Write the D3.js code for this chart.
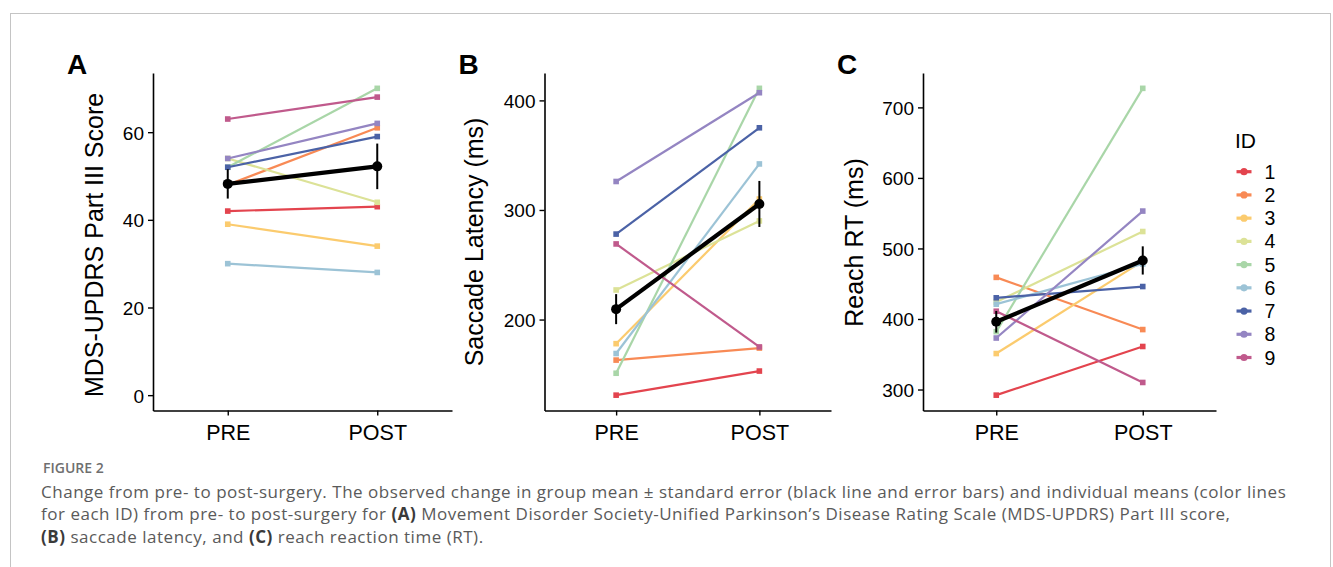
<!DOCTYPE html>
<html>
<head>
<meta charset="utf-8">
<script src="https://cdn.jsdelivr.net/npm/d3@7"></script>
<style>
  body { margin: 0; background: #fff; }
  svg { display: block; }
</style>
</head>
<body>
<div id="chart"></div>
<script>
// data
const ids = [1, 2, 3, 4, 5, 6, 7, 8, 9];
const idColors = ["#E3444E", "#F88A55", "#FBCB6E", "#DCE297", "#A9D6A8", "#9CC3D6", "#4B62A6", "#9485C2", "#C05A8C"];
const phases = ["PRE", "POST"];

const updrsPre  = [42, 48, 39, 54, 52, 30, 52, 54, 63];
const updrsPost = [43, 61, 34, 44, 70, 28, 59, 62, 68];
const updrsMean = [48.2, 52.2];
const updrsSE   = [3.35, 5.2];

const saccadePre  = [131, 163, 178, 227, 151, 169, 278, 326, 269];
const saccadePost = [153, 174, 310, 290, 411, 342, 375, 407, 175];
const saccadeMean = [209.5, 305.5];
const saccadeSE   = [13.7, 21];

const reachPre  = [292, 459, 351, 424, 382, 421, 430, 373, 411];
const reachPost = [361, 385, 482, 524, 727, 478, 446, 553, 310];
const reachMean = [396, 483];
const reachSE   = [15.3, 20];

const captionLines = [
  [["Change from pre- to post-surgery. The observed change in group mean \u00B1 standard error (black line and error bars) and individual means (color lines", false]],
  [["for each ID) from pre- to post-surgery for ", false], ["(A)", true], [" Movement Disorder Society-Unified Parkinson\u2019s Disease Rating Scale (MDS-UPDRS) Part III score,", false]],
  [["(B)", true], [" saccade latency, and ", false], ["(C)", true], [" reach reaction time (RT).", false]]
];

const W = 1333, H = 567;
const svg = d3.select("#chart").append("svg")
  .attr("width", W).attr("height", H)
  .style("font-family", "'Liberation Sans', Arial, sans-serif");

// frame
svg.append("rect")
  .attr("x", 10.5).attr("y", 13.5)
  .attr("width", 1320).attr("height", 600)
  .attr("fill", "none").attr("stroke", "#c4c4c4").attr("stroke-width", 1);

const panels = [
  {letter: "A", title: "MDS-UPDRS Part III Score", pre: updrsPre, post: updrsPost, mean: updrsMean, se: updrsSE,
   left: 153, right: 452, titleX: 103, titleY: 245, extra: [0], ticks: [0, 20, 40, 60]},
  {letter: "B", title: "Saccade Latency (ms)", pre: saccadePre, post: saccadePost, mean: saccadeMean, se: saccadeSE,
   left: 544.5, right: 831, titleX: 483, titleY: 242, extra: [], ticks: [200, 300, 400]},
  {letter: "C", title: "Reach RT (ms)", pre: reachPre, post: reachPost, mean: reachMean, se: reachSE,
   left: 923, right: 1216, titleX: 863, titleY: 242.5, extra: [], ticks: [300, 400, 500, 600, 700]}
];
const plotTop = 73, plotBottom = 410.5;

panels.forEach(p => {
  const g = svg.append("g");
  const x = d3.scalePoint().domain(phases).range([p.left, p.right]).padding(0.5);
  const [lo, hi] = d3.extent(p.pre.concat(p.post, p.extra));
  const pad = (hi - lo) * 0.05;
  const y = d3.scaleLinear().domain([lo - pad, hi + pad]).range([plotBottom, plotTop]);

  // axes
  const yAxis = g.append("g").attr("transform", `translate(${p.left},0)`)
    .call(d3.axisLeft(y).tickValues(p.ticks).tickSize(5).tickSizeOuter(0).tickPadding(4));
  const xAxis = g.append("g").attr("transform", `translate(0,${plotBottom})`)
    .call(d3.axisBottom(x).tickSize(5).tickSizeOuter(0).tickPadding(6));
  [yAxis, xAxis].forEach(a => {
    a.select(".domain").attr("stroke", "#000").attr("stroke-width", 1.6);
    a.selectAll(".tick line").attr("stroke", "#000").attr("stroke-width", 1.4);
    a.selectAll("text").attr("fill", "#000").style("font-family", "'Liberation Sans', Arial, sans-serif");
  });
  yAxis.selectAll("text").style("font-size", "19px").attr("dy", "0.36em");
  xAxis.selectAll("text").style("font-size", "21.5px").attr("dy", "0.85em");

  // axis title
  g.append("text")
    .attr("transform", `translate(${p.titleX},${p.titleY}) rotate(-90)`)
    .attr("text-anchor", "middle")
    .style("font-size", "25px")
    .text(p.title);

  // panel letter
  g.append("text")
    .attr("x", p.left - 86).attr("y", 74)
    .style("font-size", "28px").style("font-weight", "bold")
    .text(p.letter);

  // individual lines
  ids.forEach((id, i) => {
    const vals = [p.pre[i], p.post[i]];
    const c = idColors[i];
    g.append("path")
      .datum(vals)
      .attr("d", d3.line().x((d, j) => x(phases[j])).y(d => y(d)))
      .attr("fill", "none").attr("stroke", c).attr("stroke-width", 2.2);
    g.selectAll(null).data(vals).join("rect")
      .attr("x", (d, j) => x(phases[j]) - 2.8).attr("y", d => y(d) - 2.8)
      .attr("width", 5.6).attr("height", 5.6)
      .attr("fill", c);
  });

  // group mean ± SE
  g.selectAll(null).data(p.mean).join("line")
    .attr("x1", (d, j) => x(phases[j])).attr("x2", (d, j) => x(phases[j]))
    .attr("y1", (d, j) => y(d - p.se[j])).attr("y2", (d, j) => y(d + p.se[j]))
    .attr("stroke", "#000").attr("stroke-width", 2);
  g.append("path")
    .datum(p.mean)
    .attr("d", d3.line().x((d, j) => x(phases[j])).y(d => y(d)))
    .attr("fill", "none").attr("stroke", "#000").attr("stroke-width", 4.2);
  g.selectAll(null).data(p.mean).join("circle")
    .attr("cx", (d, j) => x(phases[j])).attr("cy", d => y(d))
    .attr("r", 5).attr("fill", "#000");
});

// legend
const lg = svg.append("g").attr("transform", "translate(1236,0)");
lg.append("text").attr("x", -1).attr("y", 148)
  .style("font-size", "21px").text("ID");
const ly = d3.scalePoint().domain(ids).range([171.7, 357.5]);
ids.forEach((id, i) => {
  const row = lg.append("g").attr("transform", `translate(0,${ly(id)})`);
  row.append("line").attr("x1", 0.5).attr("x2", 15.5)
    .attr("stroke", idColors[i]).attr("stroke-width", 3.2);
  row.append("circle").attr("cx", 8).attr("r", 3.6).attr("fill", idColors[i]);
  row.append("text").attr("x", 28.5).attr("dy", "0.36em")
    .style("font-size", "19.5px").text(id);
});

// caption
const cap = svg.append("g").style("font-family", "'Open Sans', 'Noto Sans', sans-serif");
cap.append("text").attr("x", 43).attr("y", 472.5)
  .style("font-size", "14px").style("font-weight", "600").attr("fill", "#6f6f6f")
  .text("FIGURE 2");
captionLines.forEach((parts, k) => {
  const t = cap.append("text").attr("x", 41).attr("y", 497.5 + k * 22.5)
    .style("font-size", "17px").style("letter-spacing", "0.52px").attr("fill", "#5a5a5a");
  parts.forEach(([s, b]) => {
    t.append("tspan").style("font-weight", b ? "700" : "400")
      .attr("fill", b ? "#3a3a3a" : "#5a5a5a").text(s);
  });
});
</script>
</body>
</html>
